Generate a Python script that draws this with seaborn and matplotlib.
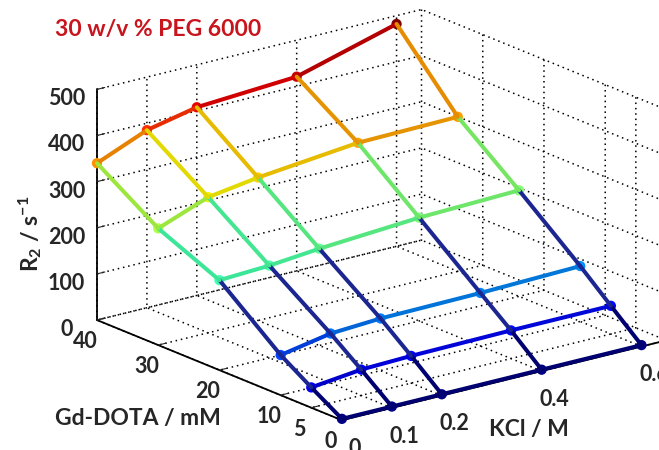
import numpy as np
import matplotlib
matplotlib.use("Agg")
import matplotlib.pyplot as plt
import seaborn as sns
from matplotlib.colors import Normalize

# data (rows: Gd-DOTA, columns: KCl)
kcl = [0, 0.1, 0.2, 0.4, 0.6]
gd = [0, 5, 10, 20, 30, 40]
r2_gd0 = [3, 3, 3, 3, 3]
r2_gd5 = [44, 56, 59, 61, 61]
r2_gd10 = [87, 107, 113, 115, 120]
r2_gd20 = [195, 200, 210, 224, 230]
r2_gd30 = [253, 294, 310, 332, 335]
r2_gd40 = [340, 385, 408, 421, 482]
z_ticks = [0, 100, 200, 300, 400, 500]
kcl_labels = ["0", "0.1", "0.2", "0.4", "0.6"]
gd_labels = ["0", "5", "10", "20", "30", "40"]

sns.set_style("white")
plt.rcParams['font.family'] = ['Lato', 'DejaVu Sans']
plt.rcParams['font.weight'] = 'bold'
plt.rcParams['mathtext.fontset'] = 'custom'
plt.rcParams['mathtext.rm'] = 'Lato:bold'
plt.rcParams['mathtext.it'] = 'Lato:bold'
plt.rcParams['mathtext.bf'] = 'Lato:bold'

R2 = np.array([r2_gd0, r2_gd5, r2_gd10, r2_gd20, r2_gd30, r2_gd40])
cmap = matplotlib.colormaps['jet']  # seaborn refuses to hand out jet
norm = Normalize(0, 450, clip=True)
navy = '#1c2690'


def shade(v):
    r, g, b, a = cmap(norm(v))
    return (r * 0.9, g * 0.9, b * 0.85, a)


fig = plt.figure(figsize=(6.59, 4.5), dpi=100)
ax = fig.add_axes([0.070, 0.009, 1, 1], projection='3d')
ax.set_proj_type('ortho')
ax.view_init(elev=18.5, azim=-127.8)
ax.set_box_aspect((407, 396, 241), zoom=1.343)

# mesh edges, coloured by the first vertex (MATLAB flat edges)
for i, g in enumerate(gd):
    for j in range(len(kcl) - 1):
        ax.plot([kcl[j], kcl[j + 1]], [g, g], [R2[i, j], R2[i, j + 1]],
                color=shade(R2[i, j]), lw=2.9, solid_capstyle='round',
                clip_on=False)
for j, k in enumerate(kcl):
    for i in range(len(gd) - 1):
        c = navy if gd[i] in (5, 10) else shade(R2[i, j])
        ax.plot([k, k], [gd[i], gd[i + 1]], [R2[i, j], R2[i + 1, j]],
                color=c, lw=2.9, solid_capstyle='round', clip_on=False)
KK, GG = np.meshgrid(kcl, gd)
pts = ax.scatter(KK.ravel(), GG.ravel(), R2.ravel(), c=R2.ravel(), cmap=cmap,
                 norm=norm, s=55, depthshade=False, edgecolors='none', alpha=1)
pts.set_clip_on(False)

ax.set_xlim(0, 0.65)
ax.set_ylim(0, 40)
ax.set_zlim(0, 500)
ax.set_xticks(kcl)
ax.set_xticklabels(kcl_labels)
ax.set_yticks(gd)
ax.set_yticklabels(gd_labels)
ax.set_zticks(z_ticks)
ax.tick_params(labelsize=15.5)
ax.xaxis.set_tick_params(pad=1)
ax.yaxis.set_tick_params(pad=-2)
ax.zaxis.set_tick_params(pad=1)

for axis in (ax.xaxis, ax.yaxis, ax.zaxis):
    axis.set_pane_color((1, 1, 1, 0))
    axis.pane.set_edgecolor('none')
    axis.line.set_color('k')
    axis.line.set_linewidth(1.3)
    axis._axinfo['grid'].update(color='k', linestyle=(0, (1, 2.5)), linewidth=1.1)
    axis._axinfo['tick'].update(inward_factor=0.0, outward_factor=0.3)

fig.text(0.083, 0.935, "30 w/v % PEG 6000", color='#c8141c', fontsize=16.5,
         fontweight='bold', ha='left', va='center')
fig.text(0.045, 0.48, r"R$_2$ / s$^{-1}$", rotation=90, fontsize=16.5,
         ha='center', va='center')
fig.text(0.209, 0.071, "Gd-DOTA / mM", fontsize=16.5, ha='center', va='center')
fig.text(0.803, 0.045, "KCl / M", fontsize=16.5, ha='center', va='center')

fig.savefig("out.png", dpi=100)
